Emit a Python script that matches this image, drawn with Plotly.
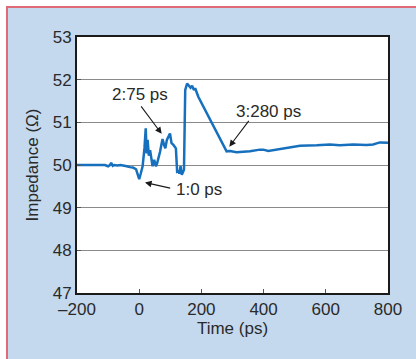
import plotly.graph_objects as go

# ---- data ----
time_ps = [-200, -150, -110, -100, -95, -90, -85, -80, -70, -60, -50, -40, -30, -20, -10,
           0, 5, 11, 17, 21, 24, 27, 31, 35, 43, 48, 54, 58, 67, 72, 75, 80, 84, 89, 94,
           99, 104, 110, 118, 122, 126, 129, 133, 137, 144, 148, 154, 161, 165, 170, 176,
           180, 190, 281, 292, 313, 340, 356, 388, 399, 415, 453, 517, 571, 613, 645, 688,
           731, 752, 774, 796, 800]
impedance = [50.0, 50.0, 50.0, 49.97, 49.99, 50.05, 49.98, 50.0, 49.99, 50.0, 49.99, 49.97,
             49.95, 49.94, 49.9, 49.67, 49.8, 49.97, 50.4, 50.86, 50.27, 50.59, 50.22, 50.35,
             49.97, 50.12, 49.97, 50.05, 50.31, 50.5, 50.61, 50.47, 50.39, 50.59, 50.66,
             50.74, 50.51, 50.47, 50.39, 49.84, 49.85, 49.8, 49.97, 49.77, 49.89, 51.76,
             51.91, 51.84, 51.81, 51.86, 51.76, 51.8, 51.6, 50.32, 50.33, 50.3, 50.31, 50.32,
             50.36, 50.36, 50.33, 50.38, 50.45, 50.46, 50.48, 50.46, 50.48, 50.47, 50.48,
             50.53, 50.52, 50.52]

x_ticks = [-200, 0, 200, 400, 600, 800]
x_tick_labels = ["\u2013200", "0", "200", "400", "600", "800"]
y_ticks = [47, 48, 49, 50, 51, 52, 53]

labels = ["2:75 ps", "1:0 ps", "3:280 ps"]
label_pos = [(4, 51.66), (192, 49.42), (416, 51.25)]
arrow_tail = [(2.6, 51.41), (104.5, 49.45), (356, 51.07)]
arrow_tip = [(72.3, 50.73), (18.6, 49.59), (289.7, 50.43)]

W, H = 416, 359
L, R, T, B = 77, 28, 37, 66
pw, ph = W - L - R, H - T - B


def px(X):
    return (X - L) / pw


def py(Y):
    return (H - B - Y) / ph


FONT = "Liberation Sans, Arial, sans-serif"
TXT = "#2a2a2a"
PANEL = "#c4d9ee"

fig = go.Figure()
fig.add_trace(go.Scatter(x=time_ps, y=impedance, mode="lines",
                         line=dict(color="#1670bd", width=2.5), showlegend=False,
                         hoverinfo="skip"))

annotations = []
for t, (xt, yt) in zip(labels, label_pos):
    annotations.append(dict(x=xt, y=yt, xref="x", yref="y", text=t, showarrow=False,
                            font=dict(family=FONT, size=17, color=TXT)))
for (xa, ya), (xh, yh) in zip(arrow_tail, arrow_tip):
    annotations.append(dict(x=xh, y=yh, xref="x", yref="y", ax=xa, ay=ya,
                            axref="x", ayref="y", text="", showarrow=True,
                            arrowhead=2, arrowsize=1.2, arrowwidth=1.1,
                            arrowcolor="#1a1a1a"))
# clipped title fragment at the very top
annotations.append(dict(x=px(217), y=py(-9), xref="paper", yref="paper", text="p",
                        showarrow=False, xanchor="center", yanchor="middle",
                        font=dict(family=FONT, size=17, color="#222")))

shapes = [
    # white margins outside the framed panel
    dict(type="rect", xref="paper", yref="paper", x0=px(-5), x1=px(W + 5), y0=py(6.5),
         y1=py(-5), fillcolor="white", line=dict(width=0), layer="below"),
    dict(type="rect", xref="paper", yref="paper", x0=px(-5), x1=px(6), y0=py(H + 5),
         y1=py(-5), fillcolor="white", line=dict(width=0), layer="below"),
    # red frame lines
    dict(type="line", xref="paper", yref="paper", x0=px(7), x1=px(W + 5), y0=py(7),
         y1=py(7), line=dict(color="#e06b76", width=2), layer="below"),
    dict(type="line", xref="paper", yref="paper", x0=px(7), x1=px(7), y0=py(6),
         y1=py(H + 5), line=dict(color="#e06b76", width=2), layer="below"),
]

fig.update_layout(
    width=W, height=H,
    margin=dict(l=L, r=R, t=T, b=B, pad=0),
    paper_bgcolor=PANEL, plot_bgcolor="white",
    font=dict(family=FONT, size=17, color=TXT),
    annotations=annotations, shapes=shapes,
    showlegend=False,
)
fig.update_xaxes(range=[-200, 800], tickvals=x_ticks, ticktext=x_tick_labels,
                 showgrid=False, zeroline=False, showline=True, linecolor="#1a1a1a",
                 linewidth=2, mirror=True, ticks="inside", ticklen=4, tickwidth=1,
                 tickcolor="#555", tickfont=dict(size=17, color=TXT),
                 title=dict(text="Time (ps)", font=dict(size=17, color=TXT), standoff=2))
fig.update_yaxes(range=[47, 53], tickvals=y_ticks, showgrid=True, gridcolor="#8a8a8a",
                 gridwidth=1, zeroline=False, showline=True, linecolor="#1a1a1a",
                 linewidth=2, mirror=True, ticks="inside", ticklen=4, tickwidth=1,
                 tickcolor="#555", tickfont=dict(size=17, color=TXT),
                 title=dict(text="Impedance (\u03a9)", font=dict(size=17, color=TXT),
                            standoff=10))

fig.write_html("out.html", config={"displayModeBar": False},
               post_script="document.body.style.margin='0';document.body.style.overflow='hidden';")
